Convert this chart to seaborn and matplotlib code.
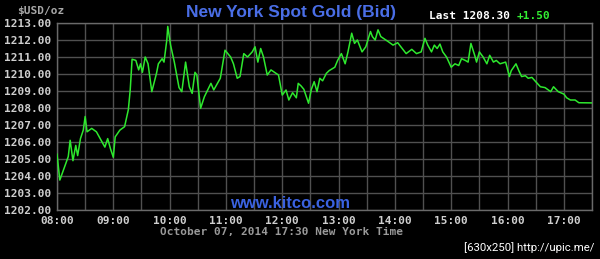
import matplotlib
matplotlib.use("Agg")
import matplotlib.pyplot as plt
import seaborn as sns
import pandas as pd
import numpy as np

# minutes after 08:00 (New York time) and bid price
minutes = [0, 3, 12, 14, 17, 20, 22, 25, 28, 30, 32, 37, 42, 46, 51, 54, 57, 60, 62, 67,
           72, 76, 78, 80, 84, 87, 89, 91, 94, 97, 101, 106, 108, 112, 114, 117, 118, 121,
           125, 130, 133, 137, 141, 144, 147, 149, 153, 157, 164, 167, 173, 174, 179, 185,
           188, 192, 195, 199, 203, 208, 211, 214, 217, 220, 224, 228, 236, 240, 244, 247,
           251, 255, 257, 260, 263, 268, 271, 274, 277, 280, 283, 287, 290, 296, 299, 303,
           307, 310, 314, 317, 320, 325, 329, 334, 336, 339, 342, 345, 353, 358, 363, 372,
           378, 383, 388, 392, 395, 399, 402, 405, 408, 411, 415, 420, 424, 428, 431, 435,
           438, 441, 445, 447, 450, 454, 458, 461, 465, 468, 472, 478, 482, 484, 489, 492,
           495, 499, 502, 506, 510, 515, 520, 526, 529, 534, 540, 543, 547, 552, 556, 570]
prices = [1205.30, 1203.76, 1205.14, 1206.10, 1204.90, 1205.80, 1205.20, 1206.20, 1206.70, 1207.50,
          1206.60, 1206.80, 1206.60, 1206.20, 1205.70, 1206.20, 1205.60, 1205.10, 1206.30, 1206.70,
          1206.90, 1207.90, 1209.06, 1210.87, 1210.80, 1210.24, 1210.60, 1210.10, 1211.00, 1210.60,
          1208.96, 1210.04, 1210.60, 1210.90, 1210.70, 1212.00, 1212.80, 1211.70, 1210.70, 1209.20,
          1208.96, 1210.70, 1209.25, 1208.86, 1210.10, 1209.94, 1207.98, 1208.66, 1209.45, 1209.06,
          1209.65, 1209.75, 1211.40, 1211.00, 1210.60, 1209.75, 1209.85, 1211.20, 1211.00, 1211.30,
          1211.60, 1210.70, 1211.50, 1211.00, 1209.94, 1210.24, 1209.94, 1208.76, 1209.06, 1208.47,
          1208.90, 1208.60, 1209.45, 1209.30, 1209.10, 1208.28, 1209.10, 1209.55, 1208.96, 1209.75,
          1209.60, 1210.04, 1210.20, 1210.40, 1210.80, 1211.20, 1210.60, 1211.30, 1212.40, 1211.80,
          1212.00, 1211.30, 1211.60, 1212.50, 1212.20, 1212.00, 1212.60, 1212.20, 1211.90, 1211.70,
          1211.84, 1211.20, 1211.45, 1211.20, 1211.30, 1212.10, 1211.70, 1211.30, 1211.70, 1211.50,
          1211.76, 1211.30, 1211.00, 1210.40, 1210.60, 1210.50, 1210.90, 1210.80, 1210.70, 1211.80,
          1211.10, 1210.70, 1211.30, 1211.00, 1210.60, 1211.10, 1210.70, 1210.80, 1210.60, 1210.70,
          1209.85, 1210.20, 1210.60, 1210.20, 1209.85, 1209.90, 1209.75, 1209.80, 1209.55, 1209.25,
          1209.20, 1208.96, 1209.25, 1208.96, 1208.82, 1208.60, 1208.47, 1208.47, 1208.31, 1208.30]

hour_ticks = [0, 60, 120, 180, 240, 300, 360, 420, 480, 540]
hour_labels = ["08:00", "09:00", "10:00", "11:00", "12:00", "13:00", "14:00", "15:00", "16:00", "17:00"]
price_ticks = [1202, 1203, 1204, 1205, 1206, 1207, 1208, 1209, 1210, 1211, 1212, 1213]

df = pd.DataFrame({"minutes": minutes, "price": prices})

sns.set_style("dark")
plt.rcParams["font.family"] = ["DejaVu Sans Mono"]

fig = plt.figure(figsize=(6.0, 2.59), dpi=100, facecolor="black")
ax = fig.add_axes([57 / 600, 1 - 210 / 259, (592 - 57) / 600, (210 - 23) / 259])
ax.set_facecolor("black")

# grid
for m in range(0, 571, 30):
    ax.axvline(m, color="#505050", lw=1.0, zorder=1)
for p in price_ticks:
    ax.axhline(p, color="#505050", lw=1.0, zorder=1)

sns.lineplot(data=df, x="minutes", y="price", ax=ax, color="#2ee82e", lw=1.1, zorder=3)

ax.set_xlim(0, 570)
ax.set_ylim(1202, 1213)
ax.set_xticks(hour_ticks)
ax.set_xticklabels(hour_labels)
ax.set_yticks(price_ticks)
ax.set_yticklabels([f"{p:.2f}" for p in price_ticks])
ax.tick_params(axis="both", length=0, colors="#cfcfcf", labelsize=8)
ax.tick_params(axis="x", pad=4)
ax.tick_params(axis="y", pad=4)
for lab in ax.get_xticklabels() + ax.get_yticklabels():
    lab.set_fontweight("bold")
ax.set_xlabel("")
ax.set_ylabel("")
ax.grid(False)
for s in ax.spines.values():
    s.set_color("#6a6a6a")
    s.set_linewidth(1.0)

# texts
fig.text(41 / 600, 1 - 11 / 259, "$USD/oz", color="#a8a8a8", fontsize=8, fontweight="bold",
         ha="center", va="center", family="DejaVu Sans Mono")
fig.text(291 / 600, 1 - 12 / 259, "New York Spot Gold (Bid)", color="#4a6ee6", fontsize=12.5,
         fontweight="bold", ha="center", va="center", family="Liberation Sans")
fig.text(429 / 600, 1 - 16 / 259, "Last 1208.30", color="white", fontsize=8, fontweight="bold",
         ha="left", va="center", family="DejaVu Sans Mono")
fig.text(517 / 600, 1 - 16 / 259, "+1.50", color="#33ee33", fontsize=8, fontweight="bold",
         ha="left", va="center", family="DejaVu Sans Mono")
fig.text(290 / 600, 1 - 203 / 259, "www.kitco.com", color="#3a62e0", fontsize=12,
         fontweight="bold", ha="center", va="center", family="Liberation Sans", zorder=5)
fig.text(282 / 600, 1 - 232 / 259, "October 07, 2014 17:30 New York Time", color="#9a9a9a",
         fontsize=8, fontweight="bold", ha="center", va="center", family="DejaVu Sans Mono")
fig.text(595 / 600, 1 - 248 / 259, "[630x250] http://upic.me/", color="white", fontsize=8.2,
         ha="right", va="center", family="Roboto")

fig.savefig("out.png", dpi=100, facecolor="black")
